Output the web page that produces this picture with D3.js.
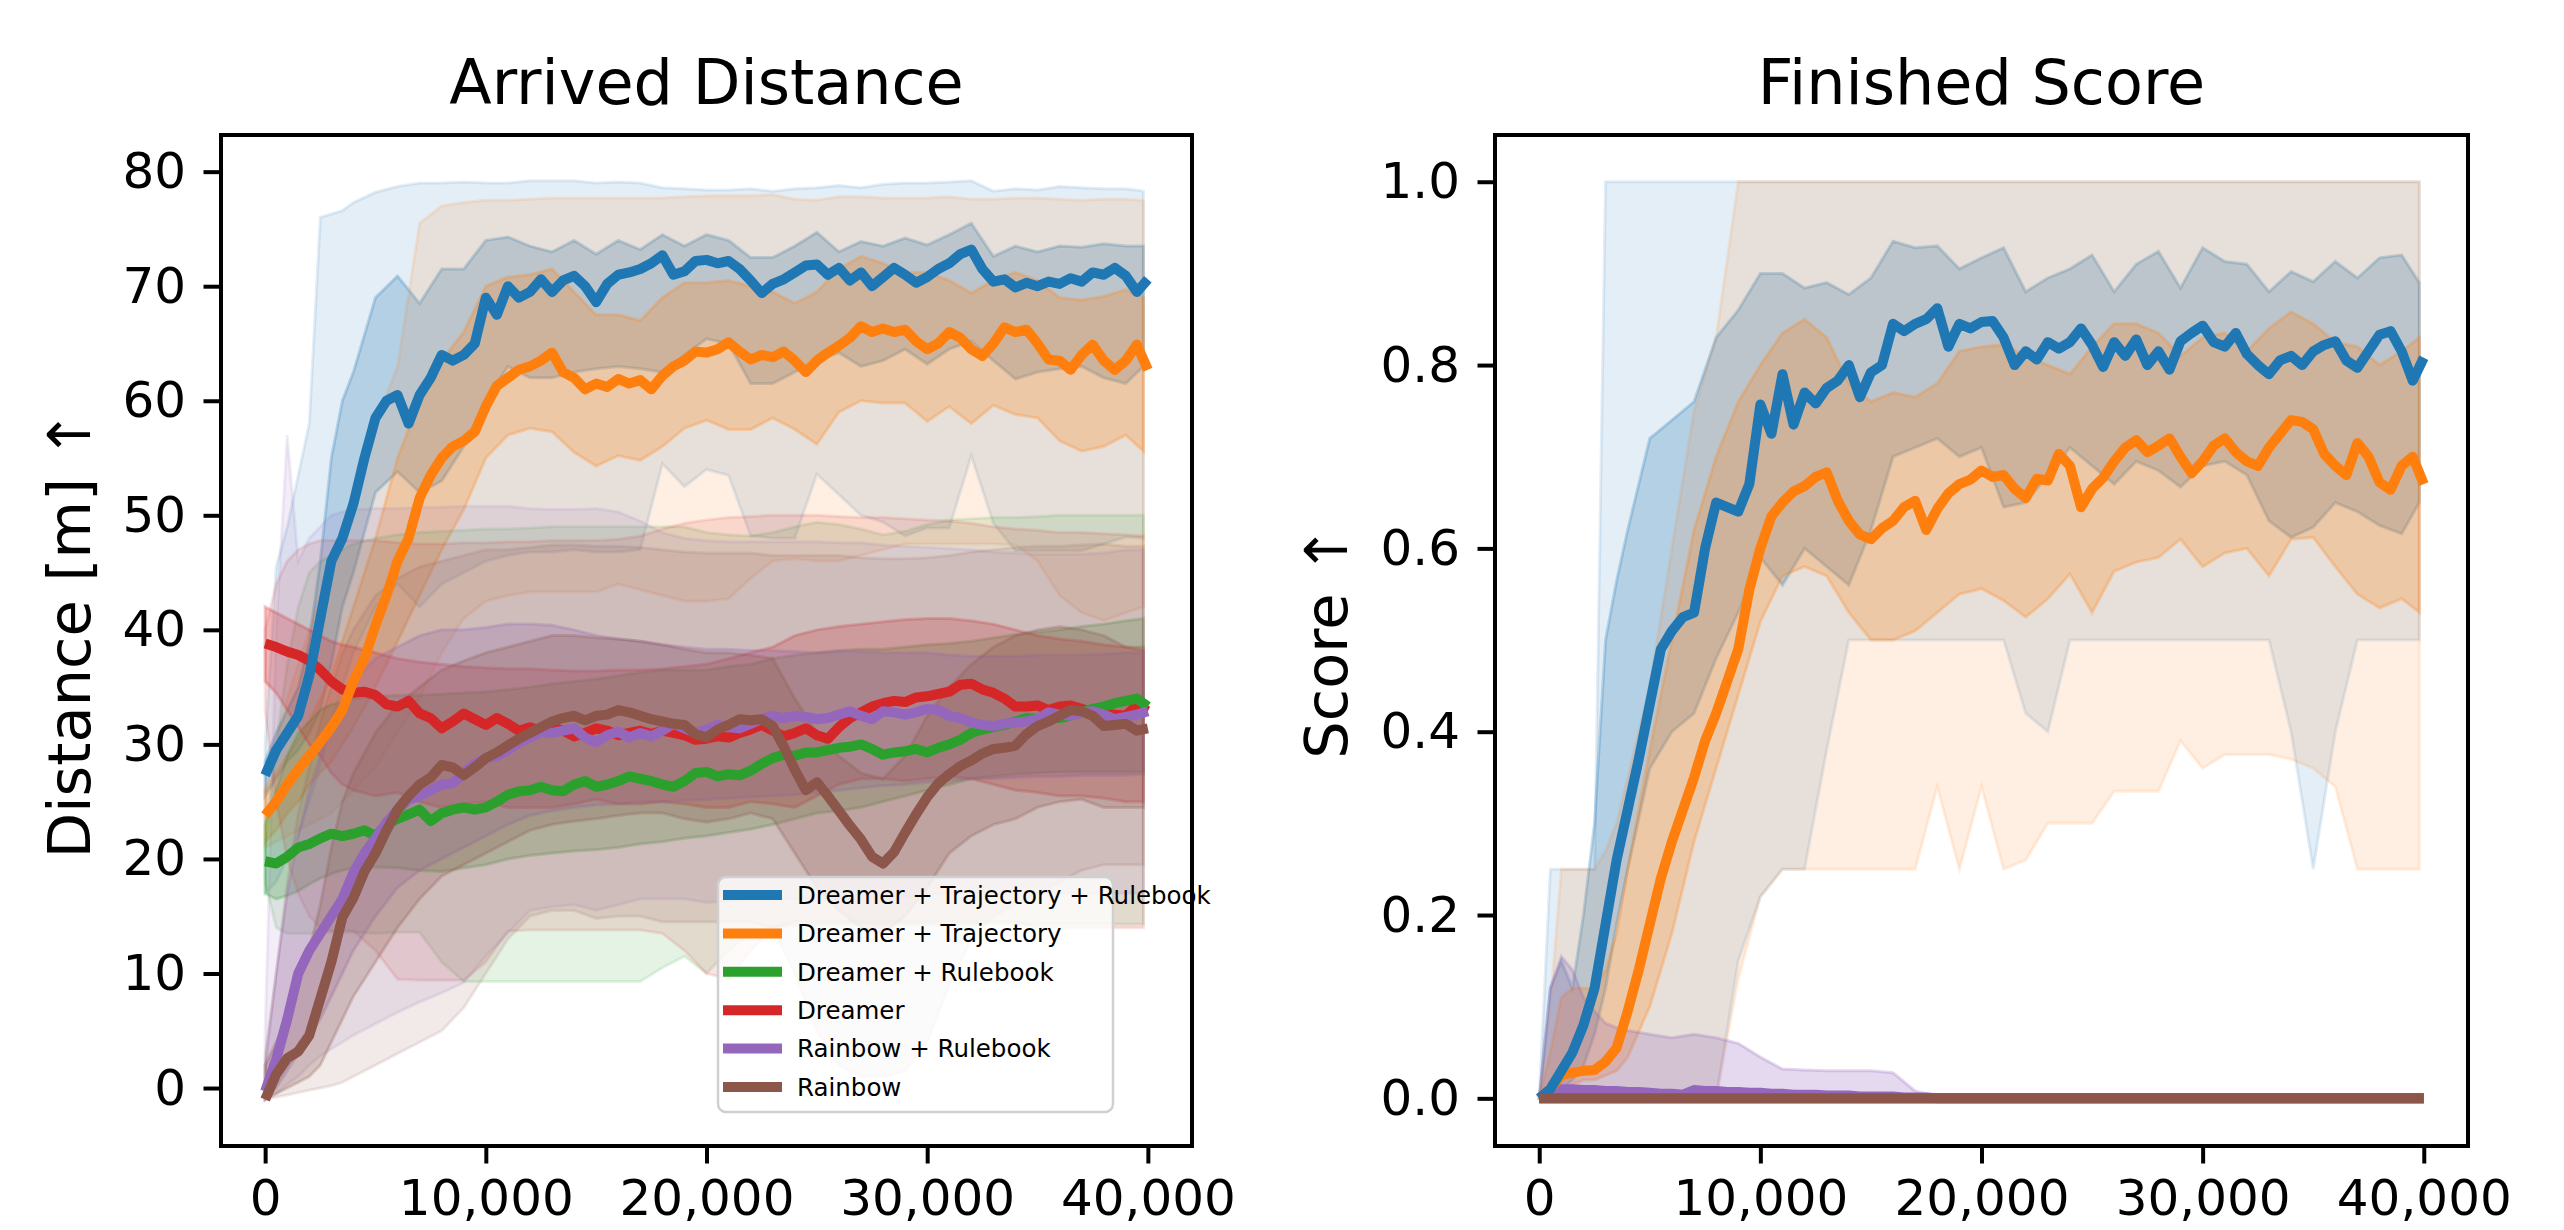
<!DOCTYPE html>
<html>
<head>
<meta charset="utf-8">
<script src="https://cdn.jsdelivr.net/npm/d3@7"></script>
<style>
  body { margin: 0; background: #fff; }
  svg { font-family: "DejaVu Sans", sans-serif; }
</style>
</head>
<body>
<svg id="chart"></svg>
<script>
// ---------- data ----------
var labels = ["Dreamer + Trajectory + Rulebook", "Dreamer + Trajectory", "Dreamer + Rulebook",
              "Dreamer", "Rainbow + Rulebook", "Rainbow"];
var xTicks = [0, 10000, 20000, 30000, 40000];
var distTicks = [0, 10, 20, 30, 40, 50, 60, 70, 80];
var scoreTicks = [0, 0.2, 0.4, 0.6, 0.8, 1.0];

// steps of the smoothed mean curves
var stepX = [0, 500, 1000, 1500, 2000, 2500, 3000, 3500, 4000, 4500,
  5000, 5500, 6000, 6500, 7000, 7500, 8000, 8500, 9000, 9500,
  10000, 10500, 11000, 11500, 12000, 12500, 13000, 13500, 14000, 14500,
  15000, 15500, 16000, 16500, 17000, 17500, 18000, 18500, 19000, 19500,
  20000, 20500, 21000, 21500, 22000, 22500, 23000, 23500, 24000, 24500,
  25000, 25500, 26000, 26500, 27000, 27500, 28000, 28500, 29000, 29500,
  30000, 30500, 31000, 31500, 32000, 32500, 33000, 33500, 34000, 34500,
  35000, 35500, 36000, 36500, 37000, 37500, 38000, 38500, 39000, 39500, 40000];
// steps of the shaded bands
var bandX = [0, 500, 1000, 1500, 2000, 2500, 3000, 3500, 4000,
  5000, 6000, 7000, 8000, 9000, 10000, 11000, 12000, 13000, 14000,
  15000, 16000, 17000, 18000, 19000, 20000, 21000, 22000, 23000, 24000,
  25000, 26000, 27000, 28000, 29000, 30000, 31000, 32000, 33000, 34000,
  35000, 36000, 37000, 38000, 39000, 39800];

// Arrived Distance, means
var distBlue = [27.3, 29.5, 31, 32.5, 36, 41, 46, 48, 51, 55,
  58.5, 60, 60.5, 58, 60.5, 62, 64, 63.5, 64, 65,
  69, 67.5, 70, 69, 69.5, 70.6, 69.5, 70.5, 70.9, 70,
  68.6, 70.2, 71, 71.2, 71.5, 72, 72.7, 71, 71.3, 72.2,
  72.3, 72, 72.2, 71.5, 70.5, 69.4, 70.2, 70.6, 71.2, 71.8,
  71.9, 71, 71.6, 70.5, 71.2, 70, 70.8, 71.6, 71, 70.3,
  70.8, 71.5, 72, 72.8, 73.2, 71.5, 70.4, 70.6, 69.9, 70.3,
  70, 70.4, 70.2, 70.7, 70.4, 71.2, 71, 71.6, 70.9, 69.5, 70.6];
var distOrange = [23.8, 25, 26.5, 27.8, 29, 30.2, 31.5, 33, 35.5, 37.5,
  40.4, 43, 46, 48, 51.5, 53.5, 55, 56, 56.5, 57.3,
  59.5, 61.3, 62, 62.7, 63, 63.5, 64.2, 62.5, 62, 61,
  61.5, 61.2, 61.9, 61.5, 61.8, 61, 62.2, 63, 63.5, 64.3,
  64.2, 64.5, 65.1, 64.3, 63.6, 64, 63.8, 64.3, 63.5, 62.5,
  63.5, 64.2, 64.8, 65.5, 66.5, 66, 66.3, 66, 66.2, 65.2,
  64.5, 65, 66, 65.5, 64.5, 63.9, 65, 66.4, 66, 66.2,
  65, 63.6, 63.5, 62.7, 64, 64.9, 63.5, 62.7, 63.5, 64.9, 62.7];
var distGreen = [19.8, 19.6, 20.2, 21, 21.3, 21.8, 22.2, 22, 22.2, 22.5,
  22, 23, 23.5, 23.9, 24.3, 23.3, 24, 24.3, 24.5, 24.3,
  24.5, 25, 25.6, 25.9, 26, 26.3, 26, 25.9, 26.5, 26.8,
  26.3, 26.5, 26.8, 27.2, 27, 26.8, 26.5, 26.3, 26.8, 27.5,
  27.6, 27.2, 27.4, 27.3, 27.7, 28.3, 28.8, 29.1, 29, 29.3,
  29.3, 29.5, 29.7, 29.8, 30, 29.6, 29.1, 29.3, 29.4, 29.6,
  29.3, 29.7, 30, 30.4, 31, 31.3, 31.5, 31.7, 32, 32.3,
  32.2, 32.3, 32.3, 32.5, 32.8, 33.1, 33.3, 33.6, 33.8, 34, 33.3];
var distRed = [38.8, 38.5, 38.1, 37.8, 37.3, 36.5, 35.5, 34.8, 34.5, 34.6,
  34.3, 33.5, 33.3, 33.8, 32.7, 32.3, 31.4, 32, 32.7, 32.2,
  31.7, 32.3, 31.8, 31.2, 31.5, 31.2, 31.5, 31.2, 30.7, 31,
  31.4, 31.2, 30.8, 31, 31.2, 30.9, 31.2, 31, 30.8, 30.4,
  30.5, 30.7, 30.6, 31, 31.3, 31.7, 31.2, 30.7, 31, 31.4,
  30.8, 30.5, 31.5, 32.3, 32.8, 33.3, 33.6, 33.8, 33.7, 34.1,
  34.2, 34.4, 34.6, 35.2, 35.3, 34.8, 34.5, 34, 33.3, 33.3,
  33.4, 33, 33.3, 33.4, 33.1, 32.8, 32.7, 32.6, 32.5, 33.4, 32.9];
var distPurple = [-0.3, 2.5, 6, 10, 12, 13.5, 15, 16.5, 18.8, 20.5,
  21.8, 23.2, 24.3, 25.2, 25.5, 26, 26.5, 26.6, 27.5, 28.3,
  28.8, 29, 29.5, 30.2, 30.6, 31.1, 31, 31.2, 31.4, 30.6,
  30.2, 30.8, 31.1, 30.6, 31, 30.7, 31.2, 31.8, 31.4, 31,
  31.3, 31.7, 31.5, 31.4, 31.8, 32.2, 32.5, 32.3, 32.5, 32.4,
  32.2, 32.3, 32.6, 32.9, 32.5, 32.2, 32.9, 32.8, 32.6, 32.8,
  33.1, 33, 32.5, 32.3, 31.9, 31.7, 31.6, 31.8, 31.9, 32,
  32.2, 32.8, 32.6, 32.5, 32.8, 32.9, 32.6, 32.2, 32.4, 32.6, 32.9];
var distBrown = [-1, 1.2, 2.6, 3.2, 4.6, 7.8, 11, 14.9, 16.6, 18.9,
  20.5, 22.5, 24.3, 25.5, 26.5, 27.1, 28.2, 28, 27.3, 28,
  28.8, 29.3, 29.9, 30.5, 31, 31.5, 32, 32.3, 32.5, 32.1,
  32.5, 32.6, 33, 32.8, 32.5, 32.2, 32, 31.8, 31.7, 30.9,
  30.6, 31.3, 31.7, 32.2, 32.1, 32.2, 31.6, 29.8, 27.8, 26,
  26.7, 25.5, 24.2, 22.9, 21.7, 20.2, 19.6, 20.6, 22.3, 23.9,
  25.4, 26.6, 27.4, 28.1, 28.6, 29.2, 29.6, 29.7, 29.9, 30.9,
  31.6, 32, 32.5, 33, 32.9, 32.5, 31.6, 31.7, 31.8, 31.2, 31.4];

// Arrived Distance, inner (std) and outer (min/max) bands
var distBlueInLo = [25.5, 27, 28.5, 29.5, 31, 33, 37, 42, 45,
  52, 53.8, 52, 53, 56, 60, 63, 62, 62, 62.5,
  62.8, 63, 62.8, 62.5, 64, 65.4, 65, 61.5, 61.5, 62.5,
  63.5, 64.2, 63, 63.5, 64.5, 63.2, 64.5, 65.2, 63.5, 61.9,
  62.5, 62.8, 63, 62, 61.5, 63];
var distBlueInHi = [28.5, 31, 33, 35, 39, 46, 55, 60, 62.5,
  69, 70.9, 68.5, 71.5, 71.5, 74, 74.3, 73.5, 73, 74,
  72.8, 74, 73.2, 74.5, 73.5, 74.5, 74, 72.5, 72.5, 73.5,
  74.7, 73, 73.9, 73.5, 74.2, 73.6, 74.5, 75.5, 72.6, 73.5,
  73, 73.5, 73.4, 73.7, 73.5, 73.5];
var distBlueOutLo = [17, 18, 20, 22, 25, 28, 32, 35, 38,
  42, 44, 42, 44, 45, 46, 46.5, 46.8, 46.8, 47,
  46.8, 46.8, 47, 54.5, 52.5, 54, 53.5, 48.2, 48, 48,
  53.6, 51.8, 50, 49.4, 48.2, 48.9, 48.9, 55.2, 49.3, 46.9,
  46.9, 46.9, 46.9, 47.5, 48.1, 48];
var distBlueOutHi = [30, 45.5, 49, 53.5, 58, 76, 76.3, 76.6, 77.3,
  78.2, 78.7, 79, 79, 79.1, 79, 79, 79.2, 79.2, 79.2,
  79, 79.1, 79, 78.6, 78.5, 78.4, 78.4, 78.5, 78.3, 78.5,
  78.6, 78.8, 78.6, 78.9, 79, 79, 79.1, 79.2, 78.3, 78.5,
  78.4, 78.7, 78.6, 78.5, 78.5, 78.3];

var distOrangeInLo = [21.5, 22.5, 24, 25, 26.5, 27.5, 28.5, 30, 31.5,
  35, 39, 43, 47, 50.5, 55, 57, 57.6, 57.3, 55.5,
  54.3, 55.2, 54.8, 56, 57.6, 58.3, 57.5, 57.5, 58.5, 57.5,
  56.2, 59, 60, 59.8, 59.8, 58.2, 59.5, 58, 59.6, 58.8,
  58.5, 56.5, 55.6, 56, 57, 55.6];
var distOrangeInHi = [26, 27.5, 29, 30.5, 32, 34, 36, 39, 42,
  48, 55, 60, 63.5, 66, 70, 70.8, 71, 71.5, 69.5,
  67.5, 67.5, 67, 69, 70.3, 70.3, 70.5, 70, 69.5, 68.5,
  69.5, 71.5, 72.6, 72, 71.2, 71.2, 70.5, 69.4, 70.5, 71.2,
  70.5, 69, 68.8, 69.1, 69.7, 69];
var distOrangeOutLo = [21, 21.5, 22, 22.5, 23, 23.5, 24, 25, 26,
  28, 31, 34, 38, 41, 42.5, 43, 43.3, 43.3, 43.3,
  43.3, 44, 43.5, 43, 42.5, 42.5, 42.7, 44.5, 46, 46.2,
  46, 46, 46.5, 47, 47.5, 47.5, 47.5, 47.5, 47.5, 47.4,
  46, 43, 41.5, 40.8, 41.5, 42];
var distOrangeOutHi = [26, 30, 34, 37, 40, 43, 46, 49, 52,
  58, 63, 75.5, 77, 77.3, 77.5, 77.5, 77.6, 77.7, 77.7,
  77.7, 77.7, 77.7, 77.7, 77.8, 77.9, 77.9, 77.9, 78, 77.6,
  77.5, 77.8, 77.8, 77.7, 77.7, 77.7, 77.8, 77.6, 77.6, 77.7,
  77.7, 77.6, 77.5, 77.6, 77.6, 77.5];

var distGreenInLo = [17, 16.5, 16.8, 17.2, 17.8, 18.3, 18.7, 19, 19.2,
  19.3, 19.2, 19, 18.9, 19.2, 19.5, 20, 20.3, 20.5, 20.7,
  20.8, 21, 21.3, 21.5, 21.8, 22, 22.3, 22.6, 23, 23.5,
  24, 24.2, 24.5, 25, 25.5, 26, 26.5, 27, 27.2, 27.4,
  27.5, 27.6, 27.6, 27.6, 27.6, 27.6];
var distGreenInHi = [23, 26, 29, 31, 32, 33, 33.5, 33.7, 34,
  34.2, 34.3, 34.3, 34.4, 34.5, 34.6, 34.8, 35, 35.3, 35.5,
  35.7, 36, 36.3, 36.5, 36.5, 36.5, 36.8, 37, 37.5, 37.8,
  38, 38.2, 38.3, 38.3, 38.5, 38.7, 38.8, 39, 39.3, 39.6,
  39.8, 40, 40.3, 40.5, 40.8, 41];
var distGreenOutLo = [18, 14, 13.5, 13.5, 13.5, 13.6, 13.6, 13.6, 13.6,
  13.5, 13.6, 13.6, 11, 9.3, 9.3, 9.3, 9.3, 9.3, 9.3,
  9.3, 9.3, 9.3, 10.5, 11.5, 10, 12, 13.5, 14, 14.2,
  14.3, 14.3, 14.3, 14.3, 14.3, 14.3, 14.3, 14.3, 14.3, 14.3,
  14.3, 14.3, 14.3, 14.3, 14.3, 14.3];
var distGreenOutHi = [21, 30, 37, 42, 45, 46, 46.5, 47, 47.5,
  48, 48.3, 48.5, 48.6, 48.7, 48.8, 48.8, 48.9, 49, 49,
  49, 49, 49, 49, 49, 48.5, 48.3, 48.2, 48.5, 49,
  49.4, 49.2, 48.8, 48.3, 48.6, 49.2, 49.6, 49.7, 49.8, 49.8,
  49.9, 50, 50, 50, 50, 50];

var distRedInLo = [35.5, 34.5, 33, 31.5, 30, 29, 27.5, 26.5, 26,
  25.5, 25.8, 25, 24.5, 24.8, 25, 24.5, 24.5, 24.5, 24.8,
  25.2, 24.8, 24.8, 25, 24.8, 24.5, 24.5, 25, 24.8, 24.5,
  25.5, 26.5, 27, 27, 26.8, 27, 27.2, 27, 26.5, 26,
  25.8, 25.5, 25.5, 25.3, 25, 25];
var distRedInHi = [42, 41.5, 41, 40.5, 40, 39.5, 39, 38.7, 38.5,
  38, 37.5, 37.2, 37, 36.8, 36.7, 36.6, 36.6, 36.5, 36.4,
  36.4, 36.5, 36.5, 36.6, 36.8, 37, 37.5, 38, 38.5, 39.5,
  40, 40.3, 40.5, 40.7, 40.9, 41, 41, 40.8, 40.5, 40,
  39.5, 39.2, 39, 38.7, 38.5, 38.2];
var distRedOutLo = [33, 25, 20, 17, 15, 14, 13.7, 13.7, 13.7,
  12, 9.5, 9.4, 9.4, 9.4, 11, 13.7, 13.8, 13.8, 13.8,
  13.8, 13.8, 13.8, 13.5, 12, 10, 9.5, 12, 14, 14.5,
  14.5, 14.5, 14.5, 14.5, 14.5, 14.5, 14.5, 14.5, 14.5, 14.5,
  14, 14, 14, 14, 14, 14];
var distRedOutHi = [40, 44, 46, 47, 47.5, 47.8, 47.8, 47.8, 47.8,
  47.8, 47.6, 47.5, 47.5, 47.6, 47.6, 47.7, 47.7, 47.8, 47.8,
  47.8, 47.9, 48.2, 48.8, 49.3, 49.6, 49.8, 49.9, 50, 50,
  50, 49.9, 49.8, 49.8, 49.7, 49.6, 49.5, 49.3, 49, 48.8,
  48.7, 48.5, 48.5, 48.4, 48.3, 48.2];

var distPurpleInLo = [-1, 0, 1.5, 3, 4.5, 6, 8, 10, 12,
  15, 17.5, 19, 20, 21, 22, 23, 23.8, 24.2, 24.5,
  24.7, 24.8, 25, 25, 25.1, 25.2, 25.3, 25.4, 25.5, 25.6,
  25.8, 26, 26.2, 26.4, 26.5, 26.7, 26.8, 27, 27, 27.1,
  27.2, 27.2, 27.3, 27.3, 27.3, 27.4];
var distPurpleInHi = [2, 10, 17, 22, 26, 29, 32, 34, 35.5,
  37.5, 38.5, 39.5, 40, 40, 40.2, 40.5, 40.5, 40.4, 40,
  39.5, 39.2, 39, 38.7, 38.5, 38.3, 38.3, 38.2, 38.2, 38.1,
  38, 38.1, 38.1, 38, 38, 38, 37.8, 37.7, 37.7, 37.7,
  37.8, 37.8, 37.8, 37.9, 38, 38];
var distPurpleOutLo = [-1, -0.5, 0.3, 1, 2, 2.8, 3.4, 4, 4.6,
  5.6, 6.6, 7.5, 8.3, 9.2, 11.5, 13.5, 15.5, 15.8, 16,
  15.5, 16, 16.5, 16.5, 16.5, 16.2, 16.3, 16.5, 16.5, 16.5,
  16.5, 16.5, 16.5, 16.5, 16.7, 16.8, 17, 17, 17, 17,
  17, 17, 17, 17, 17, 17];
var distPurpleOutHi = [5, 40, 57, 46, 48, 49, 50, 50.3, 50.5,
  50.6, 50.6, 50.7, 50.7, 50.8, 50.8, 50.8, 50.6, 50.5, 50.5,
  50.6, 50.3, 49.5, 48.5, 48, 47.8, 47.7, 47.7, 47.7, 47.7,
  47.7, 47.6, 47.6, 47.4, 47.3, 47.2, 47.1, 47, 46.8, 46.7,
  46.6, 46.6, 46.6, 46.7, 47, 47];

var distBrownInLo = [-1, -0.5, 0, 0.5, 1, 2, 4, 6, 8,
  11, 14, 16.5, 18.5, 19.5, 20.5, 21.5, 22.5, 23, 23.3,
  23.5, 23.8, 24, 24, 23.5, 23.2, 23.5, 24, 23.5, 20.5,
  17.5, 15.5, 14, 13.5, 15, 17.5, 20.5, 22, 23, 23.5,
  24.5, 25, 25.2, 24.5, 24.5, 24.5];
var distBrownInHi = [2, 4, 6, 9, 12, 16, 21, 25, 27.5,
  31, 33.5, 35, 36.5, 37.3, 38, 38.5, 39, 39.5, 39.5,
  39.3, 39.2, 39, 38.7, 38.3, 38, 38, 37.8, 37.5, 34,
  31, 29, 27.5, 27, 29, 32.5, 35, 37, 38.5, 39.5,
  40, 40.3, 40, 39.5, 38.5, 38.5];
var distBrownOutLo = [-1, -0.8, -0.6, -0.4, -0.2, 0, 0.2, 0.5, 1,
  2, 3, 4, 5, 7, 10, 13, 15, 15.5, 15.5,
  14.8, 15, 15, 14.5, 14.5, 14.5, 14.5, 14.5, 14, 10,
  5, 2, 1, 1, 1.5, 4, 9, 13, 15, 16,
  17, 18, 19, 19.5, 19.5, 19.5];
var distBrownOutHi = [3, 10, 18, 24, 28, 32, 35, 38, 40,
  43, 44.5, 45.5, 46, 46.5, 47, 47, 47.2, 47.4, 47.4,
  47.3, 47.3, 47.2, 47, 46.8, 46.7, 46.7, 46.7, 46.5, 46.5,
  46.5, 46.5, 46.3, 46.2, 46.2, 46.3, 46.5, 46.8, 47, 47.2,
  47.3, 47.3, 47.4, 47.5, 47.3, 47.3];

// Finished Score, means
var scoreBlue = [0, 0.01, 0.03, 0.05, 0.08, 0.12, 0.19, 0.26, 0.315, 0.37,
  0.43, 0.49, 0.51, 0.525, 0.53, 0.6, 0.65, 0.645, 0.64, 0.67,
  0.757, 0.725, 0.79, 0.735, 0.77, 0.758, 0.775, 0.783, 0.8, 0.765,
  0.792, 0.8, 0.845, 0.837, 0.845, 0.85, 0.862, 0.82, 0.845, 0.84,
  0.847, 0.848, 0.83, 0.8, 0.815, 0.806, 0.825, 0.818, 0.825, 0.84,
  0.822, 0.798, 0.825, 0.81, 0.828, 0.8, 0.815, 0.795, 0.826, 0.835,
  0.843, 0.825, 0.82, 0.835, 0.812, 0.8, 0.79, 0.805, 0.81, 0.8,
  0.815, 0.822, 0.826, 0.805, 0.797, 0.815, 0.833, 0.837, 0.815, 0.783, 0.808];
var scoreOrange = [0, 0.01, 0.025, 0.028, 0.03, 0.031, 0.04, 0.055, 0.095, 0.14,
  0.19, 0.24, 0.28, 0.315, 0.35, 0.39, 0.42, 0.455, 0.49, 0.555,
  0.6, 0.635, 0.65, 0.662, 0.668, 0.678, 0.683, 0.652, 0.63, 0.615,
  0.61, 0.622, 0.63, 0.645, 0.652, 0.62, 0.643, 0.66, 0.67, 0.675,
  0.685, 0.678, 0.68, 0.665, 0.655, 0.676, 0.674, 0.703, 0.69, 0.645,
  0.665, 0.677, 0.695, 0.71, 0.718, 0.705, 0.712, 0.72, 0.7, 0.682,
  0.695, 0.712, 0.72, 0.705, 0.695, 0.69, 0.71, 0.725, 0.74, 0.738,
  0.73, 0.703, 0.69, 0.68, 0.715, 0.7, 0.672, 0.664, 0.69, 0.7, 0.67];
var scorePurpleX = [0, 500, 1000, 1500, 2000, 2500, 3000, 3500, 4000, 4500,
  5000, 5500, 6000, 6500, 7000, 7500, 8000, 8500, 9000, 9500,
  10000, 10500, 11000, 11500, 12000, 12500, 13000, 13500, 14000, 14500,
  15000, 15500, 16000, 16500, 17000, 17500, 18000, 40000];
var scorePurple = [0, 0.005, 0.01, 0.01, 0.009, 0.009, 0.008, 0.008, 0.007, 0.007,
  0.006, 0.005, 0.005, 0.004, 0.009, 0.008, 0.008, 0.007, 0.007, 0.006,
  0.006, 0.005, 0.005, 0.004, 0.004, 0.004, 0.003, 0.003, 0.003, 0.002,
  0.002, 0.002, 0.002, 0.001, 0.001, 0.001, 0, 0];
var scoreFlatX = [0, 40000];
var scoreGreen = [0, 0];
var scoreRed = [0, 0];
var scoreBrown = [0, 0];

// Finished Score, bands
var scoreBlueInLo = [0, 0, 0.01, 0.02, 0.035, 0.07, 0.12, 0.19, 0.25,
  0.36, 0.4, 0.42, 0.48, 0.53, 0.59, 0.56, 0.6, 0.58, 0.56,
  0.62, 0.7, 0.71, 0.72, 0.7, 0.71, 0.645, 0.65, 0.68, 0.71,
  0.69, 0.67, 0.695, 0.685, 0.667, 0.69, 0.695, 0.68, 0.63, 0.612,
  0.623, 0.65, 0.64, 0.625, 0.616, 0.65];
var scoreBlueInHi = [0, 0.12, 0.15, 0.12, 0.2, 0.3, 0.5, 0.565, 0.62,
  0.72, 0.74, 0.76, 0.83, 0.86, 0.9, 0.9, 0.884, 0.89, 0.877,
  0.895, 0.935, 0.928, 0.93, 0.905, 0.917, 0.928, 0.88, 0.895, 0.905,
  0.92, 0.88, 0.91, 0.924, 0.884, 0.928, 0.913, 0.91, 0.88, 0.902,
  0.891, 0.913, 0.895, 0.917, 0.92, 0.89];
var scoreBlueOutLo = [0, 0, 0, 0, 0, 0, 0, 0, 0,
  0, 0, 0, 0, 0.15, 0.22, 0.25, 0.25, 0.38, 0.5,
  0.5, 0.5, 0.5, 0.5, 0.5, 0.5, 0.5, 0.42, 0.4, 0.5,
  0.5, 0.5, 0.5, 0.5, 0.5, 0.5, 0.5, 0.5, 0.5, 0.4,
  0.25, 0.4, 0.5, 0.5, 0.5, 0.5];
var scoreBlueOutHi = [0, 0.25, 0.25, 0.25, 0.25, 0.25, 1, 1, 1,
  1, 1, 1, 1, 1, 1, 1, 1, 1, 1,
  1, 1, 1, 1, 1, 1, 1, 1, 1, 1,
  1, 1, 1, 1, 1, 1, 1, 1, 1, 1,
  1, 1, 1, 1, 1, 1];
var scoreOrangeInLo = [0, 0, 0.01, 0.015, 0.02, 0.02, 0.025, 0.03, 0.045,
  0.1, 0.18, 0.28, 0.36, 0.44, 0.52, 0.57, 0.58, 0.57, 0.53,
  0.5, 0.5, 0.51, 0.53, 0.55, 0.556, 0.543, 0.525, 0.545, 0.572,
  0.53, 0.575, 0.585, 0.59, 0.61, 0.58, 0.595, 0.6, 0.57, 0.61,
  0.612, 0.58, 0.55, 0.535, 0.545, 0.53];
var scoreOrangeInHi = [0, 0.05, 0.11, 0.12, 0.12, 0.12, 0.14, 0.18, 0.25,
  0.38, 0.5, 0.62, 0.7, 0.76, 0.8, 0.835, 0.85, 0.83, 0.78,
  0.76, 0.77, 0.765, 0.78, 0.815, 0.82, 0.822, 0.81, 0.8, 0.79,
  0.82, 0.845, 0.845, 0.835, 0.81, 0.83, 0.835, 0.815, 0.84, 0.858,
  0.845, 0.825, 0.82, 0.8, 0.815, 0.83];
var scoreOrangeOutLo = [0, 0, 0, 0, 0, 0, 0, 0, 0,
  0, 0, 0, 0, 0.13, 0.22, 0.25, 0.25, 0.25, 0.25,
  0.25, 0.25, 0.25, 0.34, 0.25, 0.34, 0.25, 0.26, 0.3, 0.3,
  0.3, 0.335, 0.335, 0.335, 0.39, 0.36, 0.375, 0.375, 0.375, 0.37,
  0.36, 0.34, 0.25, 0.25, 0.25, 0.25];
var scoreOrangeOutHi = [0, 0.1, 0.25, 0.25, 0.25, 0.25, 0.27, 0.3, 0.35,
  0.45, 0.6, 0.75, 0.83, 1, 1, 1, 1, 1, 1,
  1, 1, 1, 1, 1, 1, 1, 1, 1, 1,
  1, 1, 1, 1, 1, 1, 1, 1, 1, 1,
  1, 1, 1, 1, 1, 1];
var scorePurpleInLo = [0, 0, 0, 0, 0, 0, 0, 0, 0,
  0, 0, 0, 0, 0, 0, 0, 0, 0, 0,
  0, 0, 0, 0, 0, 0, 0, 0, 0, 0,
  0, 0, 0, 0, 0, 0, 0, 0, 0, 0,
  0, 0, 0, 0, 0, 0];
var scorePurpleInHi = [0, 0.12, 0.155, 0.14, 0.11, 0.095, 0.082, 0.077, 0.074,
  0.07, 0.066, 0.07, 0.066, 0.06, 0.045, 0.032, 0.031, 0.03, 0.03,
  0.03, 0.028, 0.008, 0.002, 0, 0, 0, 0, 0, 0,
  0, 0, 0, 0, 0, 0, 0, 0, 0, 0,
  0, 0, 0, 0, 0, 0];

// ---------- drawing ----------
var W = 2564, H = 1230;
var colors = ["#1f77b4", "#ff7f0e", "#2ca02c", "#d62728", "#9467bd", "#8c564b"];
var lineOrder = [3, 2, 4, 1, 0, 5];   // brown ends up on top, as in the figure

var svg = d3.select("#chart")
  .attr("width", W)
  .attr("height", H);

svg.append("rect")
  .attr("width", W)
  .attr("height", H)
  .attr("fill", "#fff");

var panels = [
  {
    left: 221, right: 1192, top: 135, bottom: 1146,
    yDomain: [-5.06, 83.2], yTicks: distTicks, yFormat: d3.format("d"),
    title: "Arrived Distance", ylabel: "Distance [m] \u2191", ylabelX: 90, ylabelY: 634,
    legend: true,
    series: [
      { x: stepX, y: distBlue, inner: [distBlueInLo, distBlueInHi], outer: [distBlueOutLo, distBlueOutHi] },
      { x: stepX, y: distOrange, inner: [distOrangeInLo, distOrangeInHi], outer: [distOrangeOutLo, distOrangeOutHi] },
      { x: stepX, y: distGreen, inner: [distGreenInLo, distGreenInHi], outer: [distGreenOutLo, distGreenOutHi] },
      { x: stepX, y: distRed, inner: [distRedInLo, distRedInHi], outer: [distRedOutLo, distRedOutHi] },
      { x: stepX, y: distPurple, inner: [distPurpleInLo, distPurpleInHi], outer: [distPurpleOutLo, distPurpleOutHi] },
      { x: stepX, y: distBrown, inner: [distBrownInLo, distBrownInHi], outer: [distBrownOutLo, distBrownOutHi] }
    ]
  },
  {
    left: 1495, right: 2468, top: 135, bottom: 1146,
    yDomain: [-0.052, 1.051], yTicks: scoreTicks, yFormat: d3.format(".1f"),
    title: "Finished Score", ylabel: "Score \u2191", ylabelX: 1347, ylabelY: 642,
    legend: false,
    series: [
      { x: stepX, y: scoreBlue, inner: [scoreBlueInLo, scoreBlueInHi], outer: [scoreBlueOutLo, scoreBlueOutHi] },
      { x: stepX, y: scoreOrange, inner: [scoreOrangeInLo, scoreOrangeInHi], outer: [scoreOrangeOutLo, scoreOrangeOutHi] },
      { x: scoreFlatX, y: scoreGreen },
      { x: scoreFlatX, y: scoreRed },
      { x: scorePurpleX, y: scorePurple, inner: [scorePurpleInLo, scorePurpleInHi] },
      { x: scoreFlatX, y: scoreBrown }
    ]
  }
];

panels.forEach(drawPanel);

function drawPanel(p, pi) {
  var xScale = d3.scaleLinear()
    .domain([-2000, 42000])
    .range([p.left, p.right]);

  var yScale = d3.scaleLinear()
    .domain(p.yDomain)
    .range([p.bottom, p.top]);

  var g = svg.append("g");

  svg.append("clipPath")
    .attr("id", "clip" + pi)
    .append("rect")
      .attr("x", p.left)
      .attr("y", p.top)
      .attr("width", p.right - p.left)
      .attr("height", p.bottom - p.top);

  var plot = g.append("g").attr("clip-path", "url(#clip" + pi + ")");

  // shaded bands: outer (min/max) first, then inner
  p.series.forEach(function(s, i) {
    if (s.outer) band(plot, xScale, yScale, s.outer[0], s.outer[1], colors[i], 0.12);
    if (s.inner) band(plot, xScale, yScale, s.inner[0], s.inner[1], colors[i], 0.25);
  });

  // mean curves
  lineOrder.forEach(function(i) {
    var s = p.series[i];
    var line = d3.line()
      .x(function(d, k) { return xScale(s.x[k]); })
      .y(function(d) { return yScale(d); });
    plot.append("path")
      .datum(s.y)
      .attr("d", line)
      .attr("fill", "none")
      .attr("stroke", colors[i])
      .attr("stroke-width", 10)
      .attr("stroke-linejoin", "round");
  });

  // axes
  var xAxis = g.append("g")
    .attr("transform", "translate(0," + p.bottom + ")")
    .call(d3.axisBottom(xScale)
      .tickValues(xTicks)
      .tickFormat(d3.format(","))
      .tickSize(17.5)
      .tickPadding(16));

  var yAxis = g.append("g")
    .attr("transform", "translate(" + p.left + ",0)")
    .call(d3.axisLeft(yScale)
      .tickValues(p.yTicks)
      .tickFormat(p.yFormat)
      .tickSize(17.5)
      .tickPadding(17.5));

  [xAxis, yAxis].forEach(function(a) {
    a.select(".domain").remove();
    a.selectAll(".tick line").attr("stroke", "#000").attr("stroke-width", 4);
    a.selectAll(".tick text")
      .attr("fill", "#000")
      .style("font-size", "50px")
      .style("font-family", "'DejaVu Sans', sans-serif");
  });

  // frame
  g.append("rect")
    .attr("x", p.left)
    .attr("y", p.top)
    .attr("width", p.right - p.left)
    .attr("height", p.bottom - p.top)
    .attr("fill", "none")
    .attr("stroke", "#000")
    .attr("stroke-width", 4);

  g.append("text")
    .attr("x", (p.left + p.right) / 2)
    .attr("y", 104)
    .attr("text-anchor", "middle")
    .style("font-size", "62px")
    .text(p.title);

  g.append("text")
    .attr("transform", "translate(" + p.ylabelX + "," + p.ylabelY + ") rotate(-90)")
    .attr("text-anchor", "middle")
    .style("font-size", "59px")
    .text(p.ylabel);

  if (p.legend) drawLegend(g);
}

function band(parent, xScale, yScale, lo, hi, color, alpha) {
  var area = d3.area()
    .x(function(d, k) { return xScale(bandX[k]); })
    .y0(function(d, k) { return yScale(lo[k]); })
    .y1(function(d, k) { return yScale(hi[k]); });
  parent.append("path")
    .datum(lo)
    .attr("d", area)
    .attr("fill", color)
    .attr("fill-opacity", alpha)
    .attr("stroke", color)
    .attr("stroke-opacity", alpha)
    .attr("stroke-width", 3);
}

function drawLegend(g) {
  var lg = g.append("g");
  lg.append("rect")
    .attr("x", 718)
    .attr("y", 877)
    .attr("width", 395)
    .attr("height", 235)
    .attr("rx", 8)
    .attr("fill", "#fff")
    .attr("fill-opacity", 0.8)
    .attr("stroke", "#d0d0d0")
    .attr("stroke-width", 2.5);

  labels.forEach(function(name, i) {
    var cy = 895 + i * 38.4;
    lg.append("line")
      .attr("x1", 723)
      .attr("x2", 782)
      .attr("y1", cy)
      .attr("y2", cy)
      .attr("stroke", colors[i])
      .attr("stroke-width", 10);
    lg.append("text")
      .attr("x", 797)
      .attr("y", cy)
      .attr("dy", "0.36em")
      .style("font-size", "24.5px")
      .text(name);
  });
}
</script>
</body>
</html>
